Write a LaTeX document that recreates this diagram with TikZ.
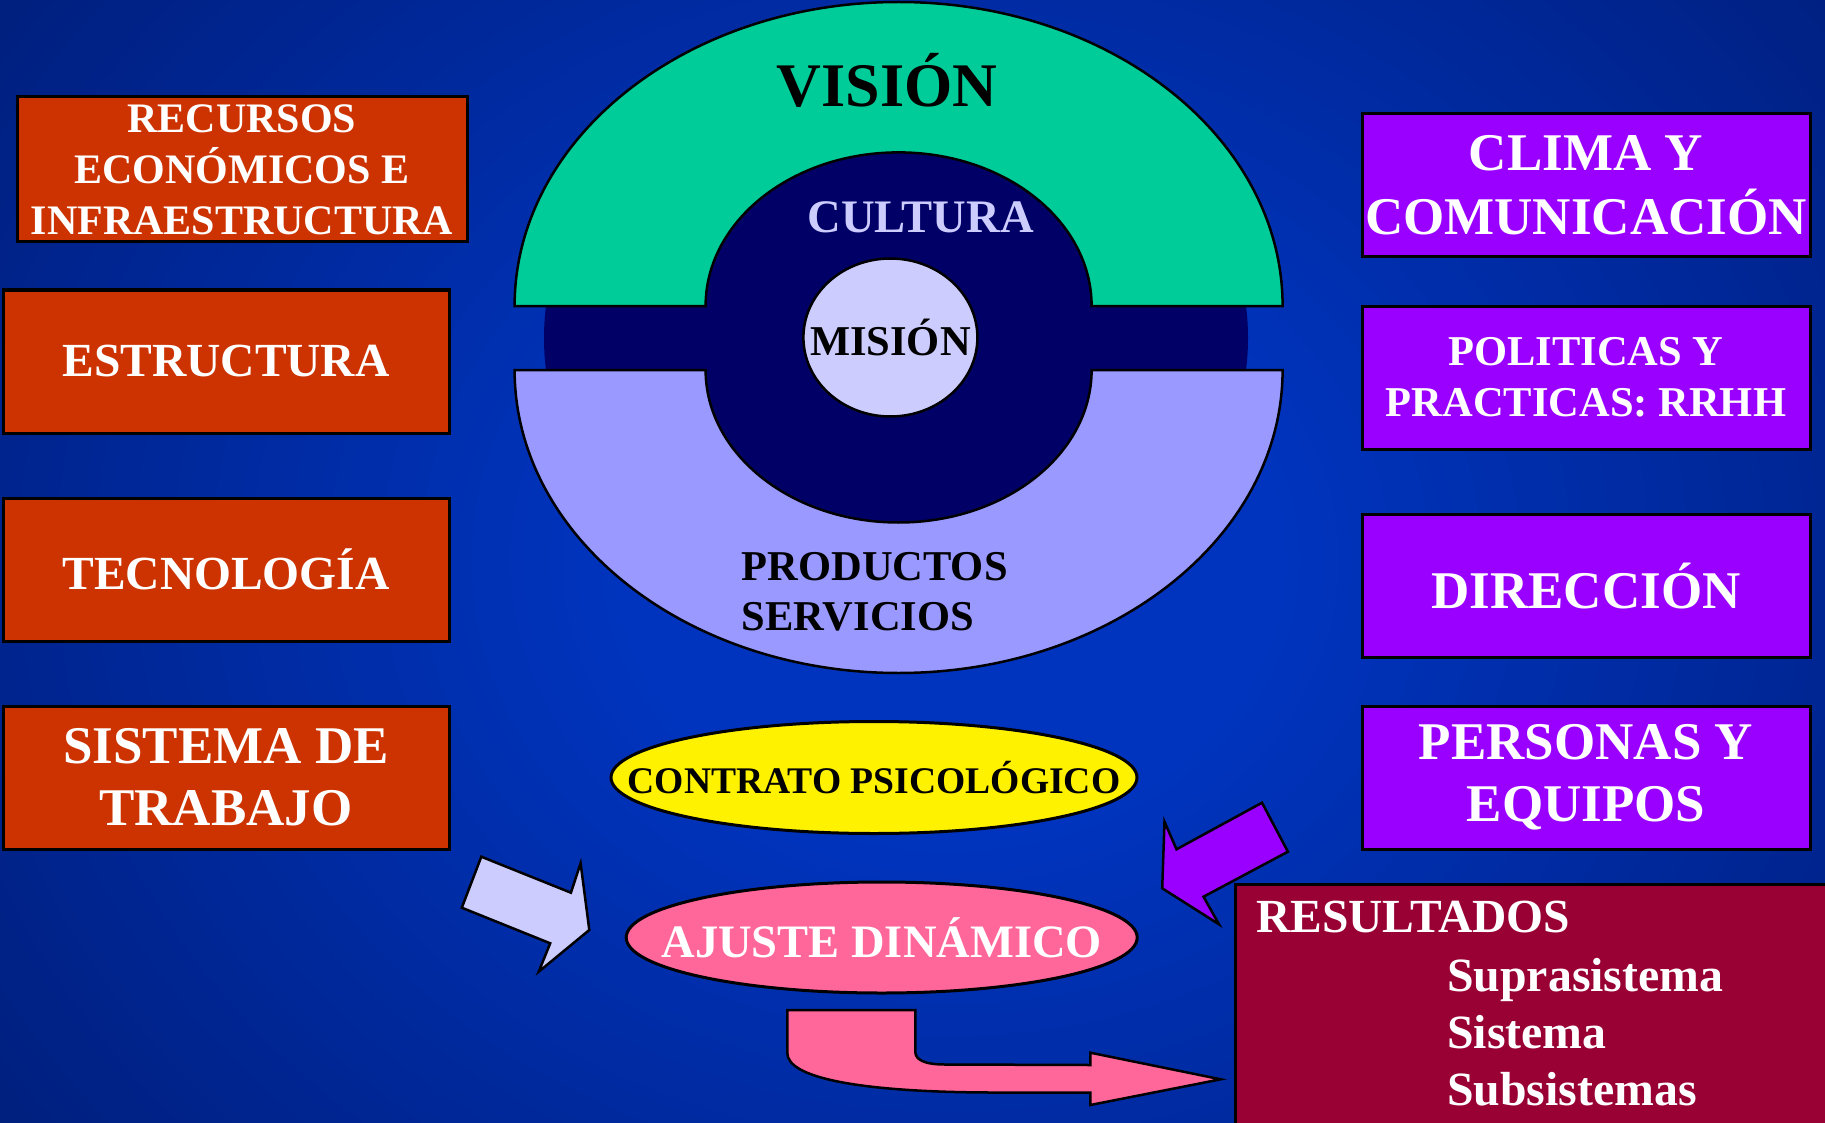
\documentclass[tikz,border=0pt]{standalone}
\usepackage{fontspec}
\setmainfont{Liberation Serif}
\usetikzlibrary{shapes.geometric}
\definecolor{bgin}{RGB}{0,52,190}
\definecolor{bgmid}{RGB}{0,34,136}
\definecolor{bgout}{RGB}{0,22,88}
\definecolor{boxred}{RGB}{204,51,0}
\definecolor{boxpurple}{RGB}{153,0,255}
\definecolor{resred}{RGB}{153,0,51}
\definecolor{vgreen}{RGB}{0,204,153}
\definecolor{plav}{RGB}{153,153,255}
\definecolor{navy}{RGB}{0,0,102}
\definecolor{light}{RGB}{204,204,255}
\definecolor{pinkc}{RGB}{255,102,153}
\pgfdeclareradialshading{bgshade}{\pgfpoint{0bp}{0bp}}{color(0bp)=(bgin); color(8bp)=(bgin); color(25bp)=(bgmid); color(41bp)=(bgout); color(75bp)=(bgout)}
\newcommand\myfs[2]{\fontsize{#1}{#2}\selectfont\bfseries}
\newcommand\nowidth[1]{\makebox[0pt]{#1}}
\tikzset{
  lbox/.style={rectangle, draw=black, line width=3pt, fill=boxred, text=white,
    align=center, inner sep=0pt, minimum width=446pt, minimum height=143pt},
  rbox/.style={lbox, fill=boxpurple, minimum width=448pt},
  oval/.style={ellipse, draw=black, line width=3pt, inner sep=0pt},
  shapeline/.style={draw=black, line width=2.5pt, line join=miter},
  plain/.style={inner sep=0pt, text=black}
}
\begin{document}
\begin{tikzpicture}[x=1pt,y=-1pt]
\useasboundingbox (0,0) rectangle (1825,1123);
% background
\begin{scope}
\clip (0,0) rectangle (1825,1123);
\shade[shading=bgshade] (-80,-300) rectangle (1980,1420);
\end{scope}

% central figure
\fill[navy] (896,338) ellipse[x radius=352, y radius=300];
\draw[shapeline, fill=vgreen] (514.6,306) arc[start angle=180, end angle=360, x radius=384, y radius=304]
  -- (1091.6,306) arc[start angle=360, end angle=180, x radius=193, y radius=153.6] -- cycle;
\draw[shapeline, fill=plav] (514.6,370) -- (705.6,370) arc[start angle=180, end angle=0, x radius=193, y radius=152.5]
  -- (1282.6,370) arc[start angle=0, end angle=180, x radius=384, y radius=303] -- cycle;
\node[oval, line width=2.5pt, fill=light, minimum width=174pt, minimum height=158pt,
  font=\myfs{42.5}{50}] (mision) at (890.4,337.5) {\nowidth{MISIÓN}};
\node[plain, anchor=base, font=\myfs{62}{70}] (vision) at (887,107) {VISIÓN};
\node[plain, anchor=base, text=light, font=\myfs{46.6}{55}] (cultura) at (920.7,233) {CULTURA};
\node[plain, anchor=north west, align=left, font=\myfs{42.5}{50}] (prod) at (741.4,552) {PRODUCTOS\\SERVICIOS};

% left boxes
\node[lbox, minimum width=450pt, minimum height=145pt, font=\myfs{42}{51}] (recursos) at (242,169.5)
  {RECURSOS\\ECONÓMICOS E\\INFRAESTRUCTURA};
\node[lbox, font=\myfs{47.5}{55}] (estructura) at (226,361.5) {ESTRUCTURA};
\node[lbox, font=\myfs{47.5}{55}] (tecnologia) at (226,569.5) {TECNOLOGÍA};
\node[lbox, font=\myfs{53}{62}] (sistema) at (226,777.5) {SISTEMA DE\\TRABAJO};

% right boxes
\node[rbox, font=\myfs{53}{64}] (clima) at (1586,185.5) {CLIMA Y\\COMUNICACIÓN};
\node[rbox, font=\myfs{42.5}{51}] (politicas) at (1586,377.5) {POLITICAS Y\\PRACTICAS: RRHH};
\node[rbox, font=\myfs{53}{62}] (direccion) at (1586,586) {DIRECCIÓN};
\node[rbox, font=\myfs{53}{62}] (personas) at (1586,777.5) {PERSONAS Y\\EQUIPOS};

% ellipses
\node[oval, fill=yellow, minimum width=526pt, minimum height=112pt, font=\myfs{37.6}{44}] (contrato)
  at (874,777.5) {\nowidth{CONTRATO PSICOLÓGICO}};
\node[oval, fill=pinkc, text=white, minimum width=511pt, minimum height=111pt, font=\myfs{46.5}{54}] (ajuste)
  at (881.7,937.5) {\nowidth{AJUSTE DINÁMICO}};

% resultados
\node[rectangle, draw=black, line width=3pt, fill=resred, anchor=north west,
  minimum width=640pt, minimum height=280pt] (resultados) at (1234,883) {};
\node[plain, text=white, anchor=base west, font=\myfs{47.5}{57}] (restit) at (1256,932) {RESULTADOS};
\node[plain, text=white, anchor=base west, font=\myfs{47.8}{57}] (supra) at (1447,991.6) {Suprasistema};
\node[plain, text=white, anchor=base west, font=\myfs{47.8}{57}] (sist) at (1447,1048.7) {Sistema};
\node[plain, text=white, anchor=base west, font=\myfs{47.8}{57}] (subs) at (1447,1105.7) {Subsistemas};

% block arrows
\draw[shapeline, fill=light] (481.3,856.7) -- (570.9,892.7) -- (580.6,863.3) -- (589.3,930)
  -- (538.7,971.7) -- (550.2,943.3) -- (461.8,907.7) -- cycle;
\draw[shapeline, fill=boxpurple] (1262,802.7) -- (1287.9,851.7) -- (1203.5,896.7) -- (1219,924.3)
  -- (1162.2,888.3) -- (1164.5,821.7) -- (1176.5,849.3) -- cycle;
\draw[shapeline, fill=pinkc] (787.3,1010) -- (915.3,1010) -- (915.3,1051.7)
  .. controls (915.3,1060) and (925,1064.5) .. (945,1064.5) -- (1090.4,1065) -- (1090.4,1052.7)
  -- (1220.7,1079.3) -- (1090.4,1105) -- (1090.4,1092.7) -- (990,1092.5)
  .. controls (860,1092) and (787.3,1078) .. (787.3,1053) -- cycle;
\end{tikzpicture}
\end{document}
